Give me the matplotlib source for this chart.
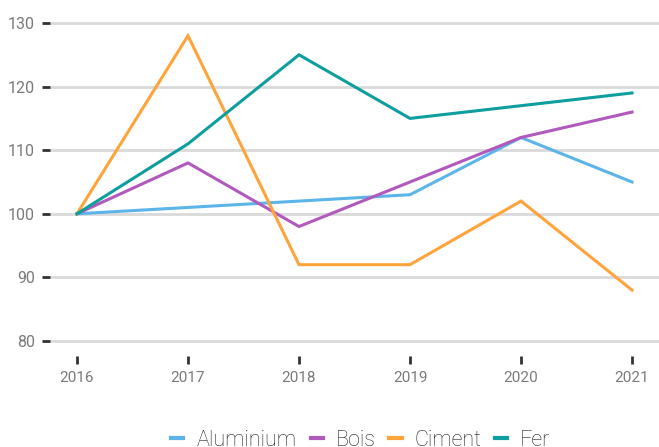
import matplotlib
matplotlib.use('Agg')
import matplotlib.pyplot as plt

plt.rcParams['font.family'] = ['Roboto', 'DejaVu Sans']

years = [2016, 2017, 2018, 2019, 2020, 2021]
aluminium = [100, 101, 102, 103, 112, 105]
bois = [100, 108, 98, 105, 112, 116]
ciment = [100, 128, 92, 92, 102, 88]
fer = [100, 111, 125, 115, 117, 119]

series = [('Aluminium', aluminium, '#5db4e8'),
          ('Bois', bois, '#b159bd'),
          ('Ciment', ciment, '#ffa33b'),
          ('Fer', fer, '#0e9e9e')]

fig = plt.figure(figsize=(6.59, 4.47), dpi=100)
ax = fig.add_axes([50 / 659, 1 - 356 / 447, 609 / 659, (356 - 15) / 447])

for name, vals, col in series:
    ax.plot(years, vals, color=col, lw=2.2, label=name, solid_joinstyle='miter')

ax.set_xlim(2015.757, 2021.243)
ax.set_ylim(77.64, 131.26)
ax.set_yticks([80, 90, 100, 110, 120, 130])
ax.set_xticks(years)
ax.grid(axis='y', color='#d9d9d9', lw=2)
ax.set_axisbelow(True)
for s in ax.spines.values():
    s.set_visible(False)

ax.tick_params(axis='y', length=6, width=2, color='#333333', labelcolor='#7a7a7a',
               labelsize=11.5, pad=5)
ax.tick_params(axis='x', length=6, width=2, color='#333333', labelcolor='#7a7a7a',
               labelsize=11, pad=5)

# legend sits a bit right of centre, like the reference
leg = fig.legend(loc='center', bbox_to_anchor=(361 / 659, 1 - 440 / 447), ncol=4,
                 frameon=False, handlelength=0.56, handletextpad=0.6,
                 columnspacing=0.65, fontsize=15.5, borderpad=0.2)
for t in leg.get_texts():
    t.set_color('#222222')
    t.set_fontweight('light')
for h in leg.get_lines():
    h.set_linewidth(3)

plt.savefig('out.png', dpi=100)
